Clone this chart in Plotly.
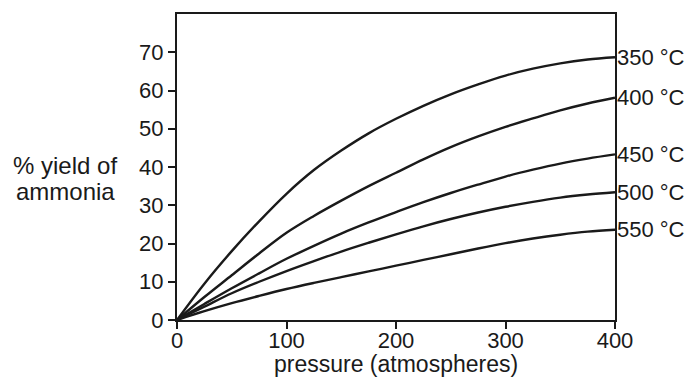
import plotly.graph_objects as go

pressure = [0, 25, 50, 75, 100, 125, 150, 175, 200, 225, 250, 275, 300, 325, 350, 375, 400]
yield_350 = [0, 9.5, 18, 25.8, 33, 39.2, 44.3, 48.8, 52.6, 56, 59, 61.6, 63.9, 65.7, 67.1, 68.1, 68.7]
yield_400 = [0, 6, 11.7, 17.4, 22.8, 27.2, 31.2, 35, 38.5, 42, 45.2, 48, 50.5, 52.7, 54.8, 56.6, 58.1]
yield_450 = [0, 4.2, 8.3, 12.2, 16, 19.4, 22.6, 25.5, 28.2, 30.8, 33.2, 35.4, 37.5, 39.3, 40.9, 42.2, 43.3]
yield_500 = [0, 3.5, 7, 10, 12.8, 15.4, 17.9, 20.2, 22.4, 24.5, 26.4, 28.1, 29.6, 30.9, 32, 32.8, 33.4]
yield_550 = [0, 2.3, 4.4, 6.3, 8.1, 9.7, 11.2, 12.7, 14.2, 15.7, 17.2, 18.7, 20.1, 21.3, 22.3, 23.1, 23.6]
series = [("350 °C", yield_350), ("400 °C", yield_400), ("450 °C", yield_450),
          ("500 °C", yield_500), ("550 °C", yield_550)]
x_ticks = [0, 100, 200, 300, 400]
y_ticks = [0, 10, 20, 30, 40, 50, 60, 70]
y_title_lines = ["% yield of", "ammonia"]
x_title = "pressure (atmospheres)"

FONT = "Liberation Sans, Arial, sans-serif"
INK = "#1a1a1a"
FS = 22

fig = go.Figure()
for name, ys in series:
    fig.add_trace(go.Scatter(x=pressure, y=ys, mode="lines", name=name,
                             line=dict(color=INK, width=2.4, shape="spline", smoothing=1.0),
                             showlegend=False, cliponaxis=False))
    fig.add_annotation(x=pressure[-1], y=ys[-1], xref="x", yref="y", text=name,
                       showarrow=False, xanchor="left", yanchor="middle", xshift=0,
                       font=dict(family=FONT, size=22, color=INK))

for line, py in zip(y_title_lines, [0.5065, 0.4188]):
    fig.add_annotation(x=-0.2557, y=py, xref="paper", yref="paper", text=line,
                       showarrow=False, xanchor="center", yanchor="middle",
                       font=dict(family=FONT, size=24, color=INK))
fig.add_annotation(x=0.5, y=-0.143, xref="paper", yref="paper", text=x_title,
                   showarrow=False, xanchor="center", yanchor="middle",
                   font=dict(family=FONT, size=23, color=INK))

fig.update_layout(
    width=684, height=373,
    margin=dict(l=169, r=77, t=4, b=61),
    paper_bgcolor="white", plot_bgcolor="white",
    font=dict(family=FONT, size=FS, color=INK),
    xaxis=dict(range=[0, 400], tickvals=x_ticks, ticks="outside", ticklen=7, tickwidth=2,
               tickcolor=INK, showline=True, linewidth=2, linecolor=INK, mirror=True,
               showgrid=False, zeroline=False, tickfont=dict(size=FS), ticklabelstandoff=-7),
    yaxis=dict(range=[0, 80], tickvals=y_ticks, ticks="outside", ticklen=7, tickwidth=2,
               tickcolor=INK, showline=True, linewidth=2, linecolor=INK, mirror=True,
               showgrid=False, zeroline=False, tickfont=dict(size=FS)),
)

fig.write_html("out.html")
